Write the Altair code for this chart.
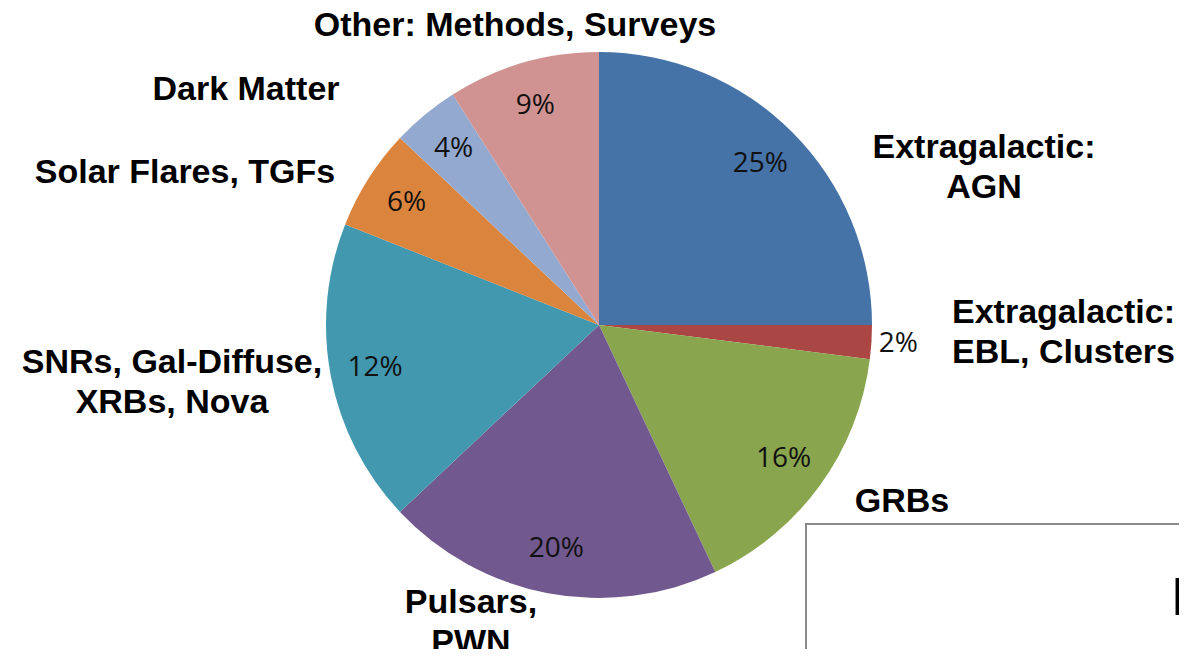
import altair as alt
import pandas as pd

# ---- data (clockwise from 12 o'clock) ----
categories = [
    "Extragalactic: AGN",
    "Extragalactic: EBL, Clusters",
    "GRBs",
    "Pulsars, PWN",
    "SNRs, Gal-Diffuse, XRBs, Nova",
    "Solar Flares, TGFs",
    "Dark Matter",
    "Other: Methods, Surveys",
]
shares = [25, 2, 16, 20, 18, 6, 4, 9]          # slice sizes as drawn
pct_labels = ["25%", "2%", "16%", "20%", "12%", "6%", "4%", "9%"]  # labels as printed
colors = ["#4572A7", "#AA4643", "#89A54E", "#71588F",
          "#4198AF", "#DB843D", "#93A9CF", "#D19392"]
outer_names = [
    "Extragalactic:\nAGN",
    "Extragalactic:\nEBL, Clusters",
    "GRBs",
    "Pulsars,\nPWN",
    "SNRs, Gal-Diffuse,\nXRBs, Nova",
    "Solar Flares, TGFs",
    "Dark Matter",
    "Other: Methods, Surveys",
]

df = pd.DataFrame({"category": categories, "share": shares,
                   "pct": pct_labels, "idx": list(range(len(categories)))})

W, H = 1171, 641
CX, CY = 591, 317
R = 273

base = alt.Chart(df).encode(
    theta=alt.Theta("share:Q", stack=True),
    order=alt.Order("idx:Q"),
    x=alt.value(CX),
    y=alt.value(CY),
)

pie = base.mark_arc(radius=R, strokeWidth=0).encode(
    color=alt.Color("category:N", scale=alt.Scale(domain=categories, range=colors), legend=None)
)

inner = base.transform_calculate(
    lab="datum.share < 3 ? '' : datum.pct"
).mark_text(radius=228, font="Open Sans", fontSize=28, color="#111111").encode(text="lab:N")

outside = base.transform_calculate(
    lab="datum.share < 3 ? datum.pct : ''"
).mark_text(radius=300, font="Open Sans", fontSize=28, color="#111111").encode(text="lab:N")

# outer category labels (placed as on the slide)
label_pos = [
    (976, 150, "center"),
    (944, 315, "left"),
    (894, 504, "center"),
    (463, 605, "center"),
    (164, 365, "center"),
    (177, 175, "center"),
    (238, 92, "center"),
    (507, 28, "center"),
]
annots = []
for name, (lx, ly, al) in zip(outer_names, label_pos):
    annots.append(
        alt.Chart(pd.DataFrame({"label": [name]})).mark_text(
            font="Liberation Sans", fontSize=34, fontWeight="bold", color="black",
            align=al, baseline="alphabetic", lineBreak="\n", lineHeight=40,
        ).encode(text="label:N", x=alt.value(lx), y=alt.value(ly))
    )

# overlapping slide box in the lower right corner
box = alt.Chart(pd.DataFrame({"a": [0]})).mark_rect(
    fill="white", stroke="#8a8a8a", strokeWidth=2
).encode(x=alt.value(798), x2=alt.value(1240), y=alt.value(516), y2=alt.value(720))

box_text = alt.Chart(pd.DataFrame({"t": ["P"]})).mark_text(
    font="Liberation Sans", fontSize=53, fontWeight="bold", color="black",
    align="left", baseline="alphabetic"
).encode(text="t:N", x=alt.value(1164), y=alt.value(607))

chart = alt.layer(pie, inner, outside, box, box_text, *annots).properties(
    width=W, height=H, padding=0,
    autosize=alt.AutoSizeParams(type="none"),
).configure(background="white").configure_view(stroke=None)

chart.save("out.html", embed_options={"renderer": "svg", "actions": False})
